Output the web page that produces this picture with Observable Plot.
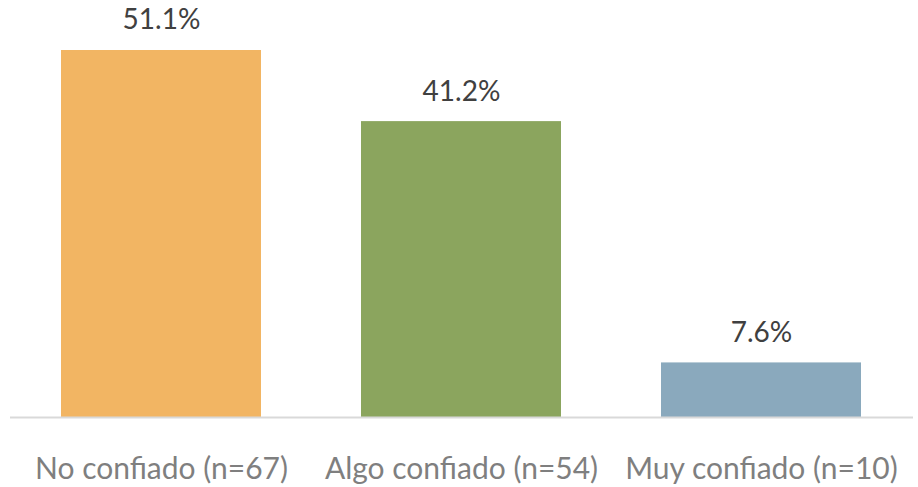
<!DOCTYPE html>
<html>
<head>
<meta charset="utf-8">
<script src="https://cdn.jsdelivr.net/npm/d3@7"></script>
<script src="https://cdn.jsdelivr.net/npm/@observablehq/plot@0.6"></script>
<style>
  body { margin: 0; background: #fff; }
  #chart svg { display: block; }
</style>
</head>
<body>
<div id="chart"></div>
<script>
const categories = ["No confiado (n=67)", "Algo confiado (n=54)", "Muy confiado (n=10)"];
const values = [51.1, 41.2, 7.6];
const colors = ["#F2B563", "#8BA55E", "#8AA9BD"];

const data = categories.map((c, i) => ({ category: c, value: values[i], color: colors[i] }));

const chart = Plot.plot({
  width: 918,
  height: 487,
  marginLeft: 10,
  marginRight: 5,
  marginTop: 22,
  marginBottom: 70,
  style: { fontFamily: "Lato, 'Open Sans', sans-serif", background: "#fff" },
  x: { domain: categories, paddingInner: 0.333, paddingOuter: 0.1667, label: null },
  y: { domain: [0, 55], axis: null },
  marks: [
    Plot.barY(data, { x: "category", y: "value", fill: "color" }),
    Plot.ruleY([0], { stroke: "#d9d9d9", strokeWidth: 2 }),
    Plot.text(data, {
      x: "category", y: "value",
      text: d => d.value.toFixed(1) + "%",
      dy: -30, fontSize: 28, fill: "#404040"
    }),
    Plot.axisX({ tickSize: 0, tickPadding: 40, fontSize: 30, fill: "#7f7f7f", label: null })
  ]
});
document.getElementById("chart").appendChild(chart);
</script>
</body>
</html>
